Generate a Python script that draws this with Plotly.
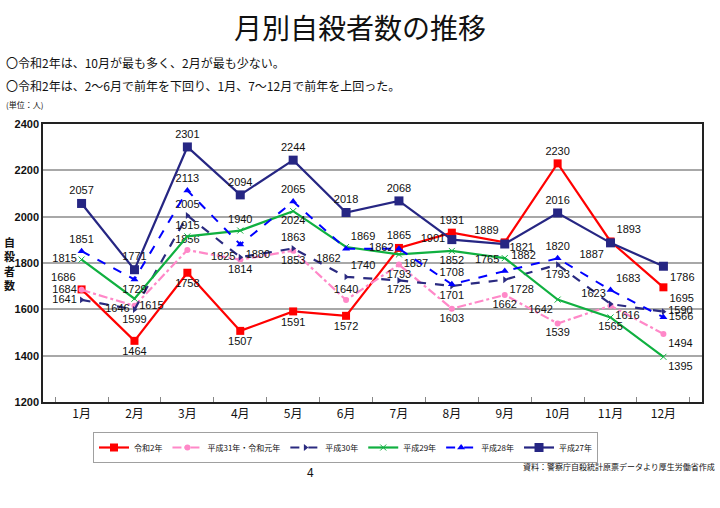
import plotly.graph_objects as go

months = ["1月", "2月", "3月", "4月", "5月", "6月", "7月", "8月", "9月", "10月", "11月", "12月"]

r2 = [1686, 1464, 1758, 1507, 1591, 1572, 1865, 1931, 1889, 2230, 1893, 1695]
r1 = [1684, 1615, 1856, 1814, 1853, 1640, 1793, 1603, 1662, 1539, 1616, 1494]
h30 = [1641, 1599, 2005, 1825, 1863, 1740, 1725, 1701, 1728, 1793, 1623, 1590]
h29 = [1815, 1646, 1915, 1940, 2024, 1869, 1837, 1852, 1821, 1642, 1565, 1395]
h28 = [1851, 1729, 2113, 1880, 2065, 1862, 1862, 1708, 1765, 1820, 1683, 1566]
h27 = [2057, 1771, 2301, 2094, 2244, 2018, 2068, 1901, 1882, 2016, 1887, 1786]

series_names = ["令和2年", "平成31年・令和元年", "平成30年", "平成29年", "平成28年", "平成27年"]

pos_r2 = ["top left", "bottom center", "bottom center", "bottom center", "bottom center", "bottom center",
          "top center", "top center", "top left", "top center", "top right", "bottom right"]
pos_r1 = ["middle left", "middle right", "top center", "bottom center", "bottom center", "top center",
          "bottom center", "bottom center", "bottom center", "bottom center", "bottom right", "bottom right"]
pos_h30 = ["middle left", "bottom center", "top center", "middle left", "top center", "top right",
           "bottom center", "bottom center", "bottom right", "bottom center", "top left", "middle right"]
pos_h29 = ["middle left", "bottom left", "top center", "top center", "bottom center", "top right",
           "bottom right", "bottom center", "top right", "bottom left", "bottom center", "bottom right"]
pos_h28 = ["top center", "bottom center", "top center", "bottom right", "top center", "bottom left",
           "middle left", "top center", "top left", "top center", "top right", "middle right"]
pos_h27 = ["top center", "top center", "top center", "top center", "top center", "top center",
           "top center", "middle left", "bottom right", "top center", "bottom left", "bottom right"]

NUMFONT = "Liberation Sans, Arial, sans-serif"
JPFONT = "Noto Sans CJK JP, sans-serif"

styles = [
    (r2, pos_r2, dict(color="#FF0000", width=2.2, dash="solid"), dict(symbol="square", size=8, color="#FF0000")),
    (r1, pos_r1, dict(color="#FF88C8", width=2.2, dash="dashdot"), dict(symbol="circle", size=6, color="#FF88C8")),
    (h30, pos_h30, dict(color="#2A2A80", width=2.2, dash="dash"), dict(symbol="triangle-right", size=6, color="#2A2A80")),
    (h29, pos_h29, dict(color="#10B040", width=2.2, dash="solid"), dict(symbol="x-thin", size=6, color="#10B040", line=dict(color="#10B040", width=1))),
    (h28, pos_h28, dict(color="#0000FF", width=2.0, dash="dash"), dict(symbol="triangle-up", size=7, color="#0000FF")),
    (h27, pos_h27, dict(color="#262683", width=2.2, dash="solid"), dict(symbol="square", size=9, color="#262683")),
]

fig = go.Figure()
for name, (vals, pos, line, marker) in zip(series_names, styles):
    fig.add_trace(go.Scatter(
        x=months, y=vals, name=name, mode="lines+markers+text",
        text=[str(v) for v in vals], textposition=pos,
        textfont=dict(family=NUMFONT, size=11, color="#111111"),
        line=line, marker=marker, cliponaxis=False,
    ))

L, R, T, B = 43, 18, 124, 106
PW, PH = 720 - L - R, 508 - T - B

fig.update_layout(
    width=720, height=508,
    margin=dict(l=L, r=R, t=T, b=B, autoexpand=False),
    paper_bgcolor="white", plot_bgcolor="white",
    showlegend=True,
    legend=dict(
        orientation="h", x=(93 - L) / PW, y=(402 - 432) / PH, xanchor="left", yanchor="top",
        bordercolor="#A0A0A0", borderwidth=1,
        font=dict(family=JPFONT, size=8, color="#111111"),
        itemwidth=30, tracegroupgap=0,
    ),
    xaxis=dict(
        type="category", showgrid=False, showline=True, linecolor="#222222", linewidth=1.5,
        mirror=True, ticks="inside", ticklen=5, tickcolor="#888888", tickson="boundaries",
        tickfont=dict(family=JPFONT, size=12, color="#111111"), automargin=False,
    ),
    yaxis=dict(
        range=[1200, 2400], dtick=200, showgrid=True, gridcolor="#A8A8A8", gridwidth=1.5,
        showline=True, linecolor="#222222", linewidth=1.5, mirror=True, zeroline=False,
        ticks="", tickfont=dict(family=NUMFONT, size=11, color="#111111"),
        tickprefix="<b>", ticksuffix="</b>", automargin=False,
    ),
)

ann = [
    dict(text="月別自殺者数の推移", x=360, y=27, size=28, xanchor="center"),
    dict(text="〇令和2年は、10月が最も多く、2月が最も少ない。", x=4, y=62, size=12, xanchor="left"),
    dict(text="〇令和2年は、2～6月で前年を下回り、1月、7～12月で前年を上回った。", x=4, y=86, size=12, xanchor="left"),
    dict(text="(単位：人)", x=4, y=104, size=8, xanchor="left"),
    dict(text="4", x=310, y=471, size=12, xanchor="center"),
    dict(text="資料：警察庁自殺統計原票データより厚生労働省作成", x=717, y=467, size=8, xanchor="right"),
    dict(text="<b>自<br>殺<br>者<br>数</b>", x=9, y=263, size=11, xanchor="center"),
]
for a in ann:
    fig.add_annotation(
        text=a["text"], xref="paper", yref="paper",
        x=(a["x"] - L) / PW, y=(402 - a["y"]) / PH,
        xanchor=a["xanchor"], yanchor="middle", showarrow=False,
        font=dict(family=JPFONT, size=a["size"], color="#111111"),
        align="center",
    )

fig.write_html("out.html", config={"displayModeBar": False},
               post_script="document.body.style.margin='0px';")
